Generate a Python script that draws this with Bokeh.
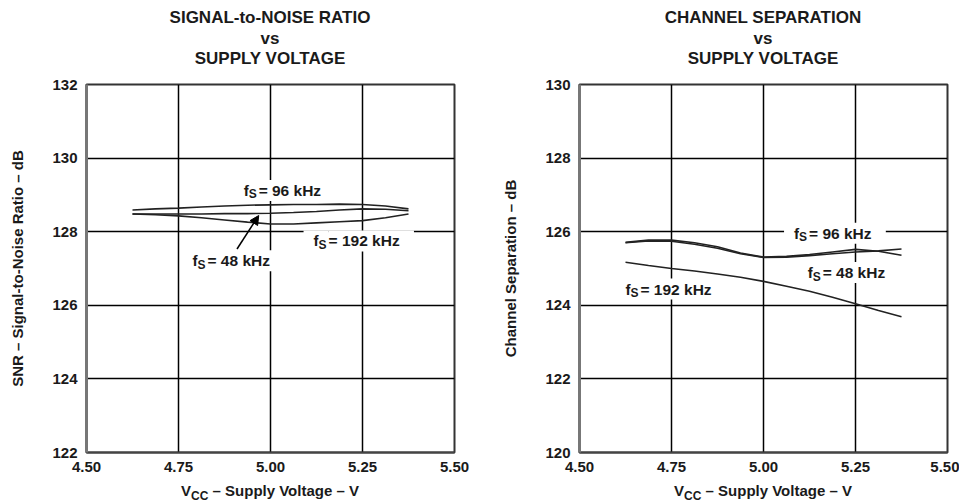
from bokeh.plotting import figure
from bokeh.models import (Label, Arrow, NormalHead, FixedTicker, PrintfTickFormatter,
                          Range1d, Div)
from bokeh.layouts import row, column
from bokeh.embed import file_html
from bokeh.resources import INLINE

FONT = "Liberation Sans"
INK = "#1a1a1a"

# ---------------- data ----------------
vcc = [4.625, 4.6875, 4.75, 4.8125, 4.875, 4.9375, 5.0, 5.0625, 5.125, 5.1875, 5.25, 5.3125, 5.375]

snr_96 = [128.59, 128.62, 128.64, 128.67, 128.70, 128.72, 128.73, 128.74, 128.74, 128.75, 128.74, 128.70, 128.62]
snr_48 = [128.48, 128.48, 128.48, 128.48, 128.49, 128.49, 128.50, 128.52, 128.55, 128.59, 128.62, 128.61, 128.57]
snr_192 = [128.48, 128.46, 128.43, 128.38, 128.32, 128.26, 128.21, 128.21, 128.24, 128.27, 128.30, 128.38, 128.48]

cs_96 = [125.71, 125.77, 125.77, 125.70, 125.59, 125.42, 125.31, 125.33, 125.38, 125.45, 125.52, 125.47, 125.36]
cs_48 = [125.70, 125.75, 125.74, 125.66, 125.55, 125.40, 125.30, 125.31, 125.35, 125.40, 125.45, 125.48, 125.53]
cs_192 = [125.17, 125.08, 125.00, 124.93, 124.85, 124.76, 124.65, 124.52, 124.38, 124.22, 124.04, 123.86, 123.69]

x_ticks = [4.50, 4.75, 5.00, 5.25, 5.50]
snr_ticks = [122, 124, 126, 128, 130, 132]
cs_ticks = [120, 122, 124, 126, 128, 130]

snr_title = ["SIGNAL-to-NOISE RATIO", "vs", "SUPPLY VOLTAGE"]
cs_title = ["CHANNEL SEPARATION", "vs", "SUPPLY VOLTAGE"]
snr_ylabel = "SNR \u2013 Signal-to-Noise Ratio \u2013 dB"
cs_ylabel = "Channel Separation \u2013 dB"
x_label_html = "V<sub style='font-size:12px'>CC</sub> \u2013 Supply Voltage \u2013 V"

FRAME = 368
TITLE_H = 70
TOP = 14          # border above the frame inside the figure (frame top at y=84)
BOTTOM = 26       # room for tick labels
XLAB_H = 26


def make_fig(yticks, ylabel, min_left, min_right):
    p = figure(frame_width=FRAME, frame_height=FRAME,
               x_range=Range1d(4.5, 5.5), y_range=Range1d(yticks[0], yticks[-1]),
               output_backend="svg", toolbar_location=None, title=None,
               min_border_left=min_left, min_border_right=min_right,
               min_border_top=TOP, min_border_bottom=BOTTOM)

    p.xaxis.ticker = FixedTicker(ticks=x_ticks)
    p.xaxis.formatter = PrintfTickFormatter(format="%.2f")
    p.yaxis.ticker = FixedTicker(ticks=yticks)
    p.xgrid.ticker = FixedTicker(ticks=x_ticks)
    p.ygrid.ticker = FixedTicker(ticks=yticks)
    for ax in (p.xaxis, p.yaxis):
        ax.major_tick_line_color = None
        ax.minor_tick_line_color = None
        ax.major_tick_out = 0
        ax.major_tick_in = 0
        ax.major_label_text_font = FONT
        ax.major_label_text_font_size = "15px"
        ax.major_label_text_font_style = "bold"
        ax.major_label_text_color = INK
    p.xaxis.major_label_standoff = 9
    p.yaxis.major_label_standoff = 9
    p.xaxis.axis_line_color = "#444444"
    p.xaxis.axis_line_width = 2
    p.yaxis.axis_line_color = "#777777"
    p.yaxis.axis_line_width = 3
    p.yaxis.axis_label = ylabel
    p.yaxis.axis_label_text_font = FONT
    p.yaxis.axis_label_text_font_size = "15px"
    p.yaxis.axis_label_text_font_style = "bold"
    p.yaxis.axis_label_text_color = INK
    p.yaxis.axis_label_standoff = 23

    p.grid.grid_line_color = "black"
    p.grid.grid_line_width = 1.5
    p.grid.grid_line_alpha = 1
    p.outline_line_color = "#333333"
    p.outline_line_width = 2
    p.outline_line_alpha = 1
    p.background_fill_color = "white"
    p.border_fill_color = "white"
    return p


def title_div(total_w, frame_left, lines):
    html = ("<div style=\"position:absolute; left:%dpx; top:8px; width:%dpx; "
            "line-height:20.5px; text-align:center; white-space:nowrap; font-family:'%s'; "
            "font-size:17px; font-weight:bold; color:%s\">%s</div>"
            % (frame_left, FRAME, FONT, INK, "<br>".join(lines)))
    return Div(text=html, width=total_w, height=TITLE_H, margin=(0, 0, 0, 0),
               styles={"position": "relative"})


def xlabel_div(total_w, frame_left):
    html = ("<div style=\"position:absolute; left:%dpx; top:0px; width:%dpx; height:26px; "
            "line-height:26px; text-align:center; white-space:nowrap; font-family:'%s'; "
            "font-size:15px; font-weight:bold; color:%s\">%s</div>"
            % (frame_left, FRAME, FONT, INK, x_label_html))
    return Div(text=html, width=total_w, height=XLAB_H, margin=(0, 0, 0, 0),
               styles={"position": "relative"})


def fs_label(p, x, y, rest):
    common = dict(text_font=FONT, text_font_style="bold", text_color=INK,
                  text_baseline="middle", text_align="left",
                  background_fill_color="white")
    p.add_layout(Label(x=x, y=y, x_offset=-10, text="f", text_font_size="15.5px",
                       padding=dict(left=10, right=10, top=2, bottom=2), **common))
    p.add_layout(Label(x=x, y=y, x_offset=15, text=rest, text_font_size="15.5px",
                       padding=dict(left=0, right=10, top=2, bottom=2), **common))
    p.add_layout(Label(x=x, y=y, x_offset=5, y_offset=-4, text="S", text_font_size="12px",
                       padding=0, **common))


# ---------------- left: SNR ----------------
L_LEFT, L_RIGHT = 86, 36
p1 = make_fig(snr_ticks, snr_ylabel, L_LEFT, L_RIGHT)
for ys in (snr_96, snr_48, snr_192):
    p1.line(vcc, ys, line_color="#222222", line_width=1.6)
fs_label(p1, 4.927, 129.12, " = 96 kHz")
fs_label(p1, 5.117, 127.75, " = 192 kHz")
fs_label(p1, 4.788, 127.21, " = 48 kHz")
p1.add_layout(Arrow(end=NormalHead(size=9, fill_color="black", line_color="black"),
                    x_start=4.909, y_start=127.53, x_end=4.968, y_end=128.44,
                    line_color="black", line_width=1.5))

# ---------------- right: channel separation ----------------
R_LEFT, R_RIGHT = 89, 12
p2 = make_fig(cs_ticks, cs_ylabel, R_LEFT, R_RIGHT)
for ys in (cs_96, cs_48, cs_192):
    p2.line(vcc, ys, line_color="#222222", line_width=1.6)
fs_label(p2, 5.083, 125.96, " = 96 kHz")
fs_label(p2, 5.120, 124.89, " = 48 kHz")
fs_label(p2, 4.625, 124.44, " = 192 kHz")

wl = L_LEFT + FRAME + L_RIGHT
wr = R_LEFT + FRAME + R_RIGHT
layout = row(column(title_div(wl, L_LEFT, snr_title), p1, xlabel_div(wl, L_LEFT)),
             column(title_div(wr, R_LEFT, cs_title), p2, xlabel_div(wr, R_LEFT)))
open("out.html", "w").write(file_html(layout, INLINE))
